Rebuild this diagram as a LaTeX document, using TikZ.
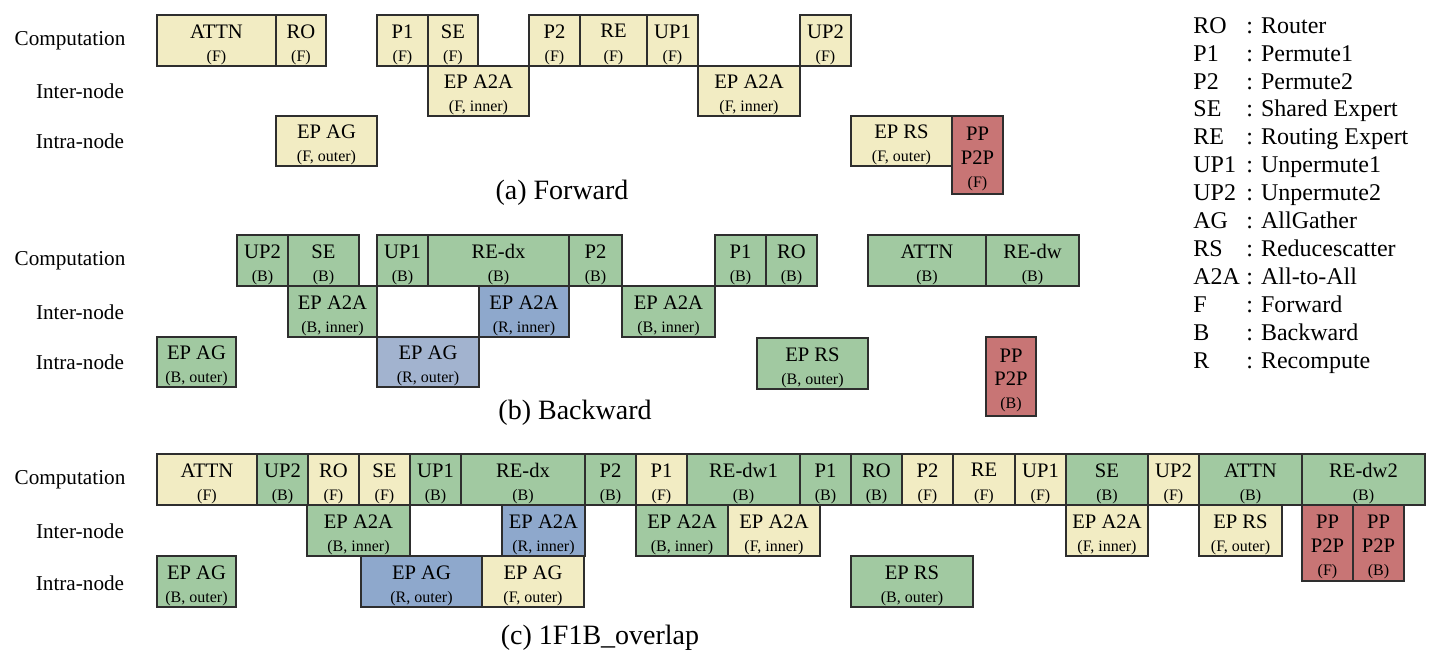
\documentclass[tikz,border=0pt]{standalone}
\usepackage{fontspec}
\setmainfont{Liberation Serif}
\definecolor{cF}{HTML}{F2ECC3}
\definecolor{cB}{HTML}{A1C9A1}
\definecolor{cR}{HTML}{8EA8CC}
\definecolor{cRl}{HTML}{A2B3CF}
\definecolor{cP}{HTML}{C87575}
\definecolor{edge}{HTML}{2E2E2E}
\tikzset{
  box/.style={draw=edge,line width=0.6pt,inner sep=0pt},
  boxtxt/.style={inner sep=0pt,align=center,font=\fontsize{10.3}{11.6}\selectfont},
  rowlab/.style={inner sep=0pt,font=\fontsize{10.6}{12}\selectfont},
  captxt/.style={inner sep=0pt,font=\fontsize{14}{16}\selectfont},
  leg/.style={inner sep=0pt,anchor=base west,font=\fontsize{12}{14}\selectfont}
}
\newcommand\sub[1]{\\[0pt]{\fontsize{8}{9}\selectfont #1}}
\newcommand\psub[1]{\\[0pt]{\fontsize{8}{9}\selectfont #1}}
\newcommand\bx[7]{\node[box,fill=#6,minimum width={(#4-#2)*0.5pt},minimum height={(#5-#3)*0.5pt}] (#1) at ({(#2+#4)/2},{(#3+#5)/2}) {};
  \node[boxtxt] (#1t) at ([yshift=-2pt]#1.center) {#7};}
\begin{document}
\begin{tikzpicture}[x=0.5pt,y=-0.5pt]
\useasboundingbox (0,0) rectangle (1440,666);
% ---------- (a) Forward ----------
\node[rowlab] (la1) at (70,41) {Computation};
\node[rowlab] (la2) at (80,91) {Inter-node};
\node[rowlab] (la3) at (80,141) {Intra-node};
\bx{aATTN}{157}{15}{276}{66}{cF}{ATTN\sub{(F)}}
\bx{aRO}{276}{15}{326}{66}{cF}{RO\sub{(F)}}
\bx{aP1}{377}{15}{428}{66}{cF}{P1\sub{(F)}}
\bx{aSE}{428}{15}{478}{66}{cF}{SE\sub{(F)}}
\bx{aP2}{529}{15}{580}{66}{cF}{P2\sub{(F)}}
\bx{aRE}{580}{15}{647}{66}{cF}{RE\sub{(F)}}
\bx{aUP1}{647}{15}{698}{66}{cF}{UP1\sub{(F)}}
\bx{aUP2}{800}{15}{851}{66}{cF}{UP2\sub{(F)}}
\bx{aA2Aa}{428}{66}{529}{116}{cF}{EP A2A\sub{(F, inner)}}
\bx{aA2Ab}{698}{66}{800}{116}{cF}{EP A2A\sub{(F, inner)}}
\bx{aAG}{276}{116}{377}{166}{cF}{EP AG\sub{(F, outer)}}
\bx{aRS}{851}{116}{952}{166}{cF}{EP RS\sub{(F, outer)}}
\bx{aPP}{952}{116}{1003}{194}{cP}{PP\\[0pt]P2P\psub{(F)}}
\node[captxt] (capa) at (562,193) {(a) Forward};
% ---------- (b) Backward ----------
\node[rowlab] (lb1) at (70,261) {Computation};
\node[rowlab] (lb2) at (80,312) {Inter-node};
\node[rowlab] (lb3) at (80,362) {Intra-node};
\bx{bUP2}{237}{235}{288}{286}{cB}{UP2\sub{(B)}}
\bx{bSE}{288}{235}{359}{286}{cB}{SE\sub{(B)}}
\bx{bUP1}{377}{235}{428}{286}{cB}{UP1\sub{(B)}}
\bx{bREdx}{428}{235}{569}{286}{cB}{RE-dx\sub{(B)}}
\bx{bP2}{569}{235}{622}{286}{cB}{P2\sub{(B)}}
\bx{bP1}{715}{235}{766}{286}{cB}{P1\sub{(B)}}
\bx{bRO}{766}{235}{817}{286}{cB}{RO\sub{(B)}}
\bx{bATTN}{868}{235}{986}{286}{cB}{ATTN\sub{(B)}}
\bx{bREdw}{986}{235}{1079}{286}{cB}{RE-dw\sub{(B)}}
\bx{bA2Aa}{288}{286}{377}{337}{cB}{EP A2A\sub{(B, inner)}}
\bx{bA2Ab}{479}{286}{569}{337}{cR}{EP A2A\sub{(R, inner)}}
\bx{bA2Ac}{622}{286}{715}{337}{cB}{EP A2A\sub{(B, inner)}}
\bx{bAGa}{157}{337}{236}{387}{cB}{EP AG\sub{(B, outer)}}
\bx{bAGb}{377}{337}{479}{387}{cRl}{EP AG\sub{(R, outer)}}
\bx{bRS}{757}{338}{868}{389}{cB}{EP RS\sub{(B, outer)}}
\bx{bPP}{986}{337}{1036}{416}{cP}{PP\\[0pt]P2P\psub{(B)}}
\node[captxt] (capb) at (575,413) {(b) Backward};
% ---------- (c) 1F1B_overlap ----------
\node[rowlab] (lc1) at (70,480) {Computation};
\node[rowlab] (lc2) at (80,531) {Inter-node};
\node[rowlab] (lc3) at (80,583) {Intra-node};
\bx{cATTN}{157}{454}{257}{505}{cF}{ATTN\sub{(F)}}
\bx{cUP2}{257}{454}{308}{505}{cB}{UP2\sub{(B)}}
\bx{cRO}{308}{454}{359}{505}{cF}{RO\sub{(F)}}
\bx{cSE}{359}{454}{410}{505}{cF}{SE\sub{(F)}}
\bx{cUP1}{410}{454}{461}{505}{cB}{UP1\sub{(B)}}
\bx{cREdx}{461}{454}{585}{505}{cB}{RE-dx\sub{(B)}}
\bx{cP2}{585}{454}{636}{505}{cB}{P2\sub{(B)}}
\bx{cP1}{636}{454}{687}{505}{cF}{P1\sub{(F)}}
\bx{cREdwa}{687}{454}{800}{505}{cB}{RE-dw1\sub{(B)}}
\bx{cP1b}{800}{454}{851}{505}{cB}{P1\sub{(B)}}
\bx{cROb}{851}{454}{902}{505}{cB}{RO\sub{(B)}}
\bx{cP2f}{902}{454}{953}{505}{cF}{P2\sub{(F)}}
\bx{cRE}{953}{454}{1015}{505}{cF}{RE\sub{(F)}}
\bx{cUP1f}{1015}{454}{1066}{505}{cF}{UP1\sub{(F)}}
\bx{cSEb}{1066}{454}{1148}{505}{cB}{SE\sub{(B)}}
\bx{cUP2f}{1148}{454}{1199}{505}{cF}{UP2\sub{(F)}}
\bx{cATTNb}{1199}{454}{1302}{505}{cB}{ATTN\sub{(B)}}
\bx{cREdwb}{1302}{454}{1425}{505}{cB}{RE-dw2\sub{(B)}}
\bx{cA2Aa}{307}{505}{410}{556}{cB}{EP A2A\sub{(B, inner)}}
\bx{cA2Ab}{502}{505}{585}{556}{cR}{EP A2A\sub{(R, inner)}}
\bx{cA2Ac}{636}{505}{728}{556}{cB}{EP A2A\sub{(B, inner)}}
\bx{cA2Ad}{728}{505}{820}{556}{cF}{EP A2A\sub{(F, inner)}}
\bx{cA2Ae}{1066}{505}{1148}{556}{cF}{EP A2A\sub{(F, inner)}}
\bx{cRSf}{1199}{505}{1282}{556}{cF}{EP RS\sub{(F, outer)}}
\bx{cPPf}{1302}{505}{1353}{581}{cP}{PP\\[0pt]P2P\psub{(F)}}
\bx{cPPb}{1353}{505}{1404}{581}{cP}{PP\\[0pt]P2P\psub{(B)}}
\bx{cAGa}{157}{556}{236}{607}{cB}{EP AG\sub{(B, outer)}}
\bx{cAGb}{361}{556}{482}{607}{cR}{EP AG\sub{(R, outer)}}
\bx{cAGc}{482}{556}{584}{607}{cF}{EP AG\sub{(F, outer)}}
\bx{cRSb}{851}{556}{973}{607}{cB}{EP RS\sub{(B, outer)}}
\node[captxt] (capc) at (600,638) {(c) 1F1B\_overlap};
% ---------- legend ----------
\foreach \ab/\de [count=\i from 0] in {RO/Router,P1/Permute1,P2/Permute2,SE/Shared Expert,RE/Routing Expert,UP1/Unpermute1,UP2/Unpermute2,AG/AllGather,RS/Reducescatter,A2A/All-to-All,F/Forward,B/Backward,R/Recompute}{
  \node[leg] (lgk\i) at (1193,{33.2+27.9*\i}) {\ab};
  \node[leg] (lgv\i) at (1246,{33.2+27.9*\i}) {: \de};
}
\end{tikzpicture}
\end{document}
